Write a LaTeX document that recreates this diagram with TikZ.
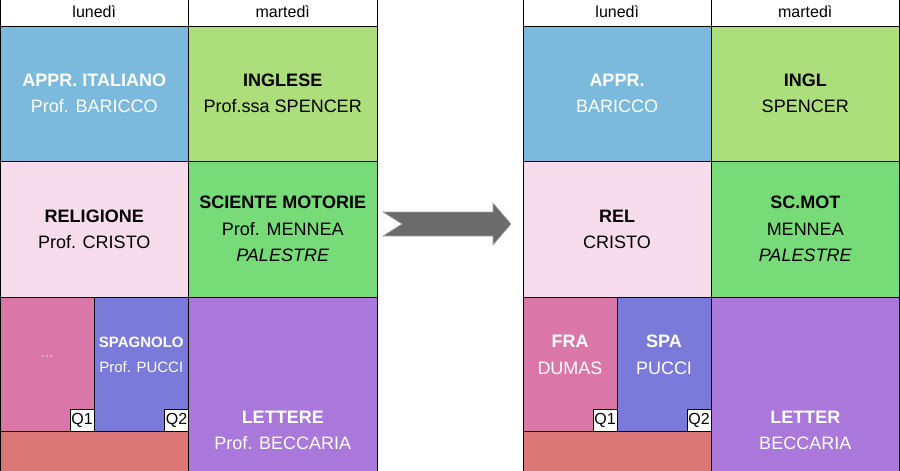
\documentclass[tikz,border=0pt]{standalone}
\usepackage{fontspec}
\setmainfont{Liberation Sans}
\usetikzlibrary{
  positioning
  , calc
}

\definecolor{celeste}{HTML}{7BBADD}
\definecolor{verdino}{HTML}{ACDE7B}
\definecolor{rosino}{HTML}{F7DDEB}
\definecolor{verde}{HTML}{77DB77}
\definecolor{rosa}{HTML}{DB77A8}
\definecolor{blu}{HTML}{7A7ADB}
\definecolor{viola}{HTML}{AA77DB}
\definecolor{salmone}{HTML}{DB7777}
\definecolor{puntini}{HTML}{F2C8DD}
\definecolor{freccia}{HTML}{6B6B6B}
\definecolor{bordofreccia}{HTML}{A5A5A5}

\tikzset{
  cell/.style={draw=black, line width=1pt, anchor=north west,
    inner sep=0pt, outer sep=0pt, align=center,
    font=\fontsize{18}{26}\selectfont},
  day/.style={cell, fill=white, minimum width=188.5pt, minimum height=28pt,
    font=\fontsize{16}{19}\selectfont},
  small/.style={align=center, font=\fontsize{15}{25}\selectfont},
  qbox/.style={draw=black, fill=white, line width=1pt, anchor=south east,
    inner sep=0pt, outer sep=0pt, minimum width=24pt, minimum height=22pt,
    font=\fontsize{16}{18}\selectfont},
}

\begin{document}
\begin{tikzpicture}[x=1pt, y=-1pt]
  \clip (0,0) rectangle (900,471);

  % orario prima
  \node [day] (Lh1) at (0,-2) {lunedì};
  \node [day] (Lh2) at (188.5,-2) {martedì};
  \node [cell, fill=celeste, text=white, minimum width=188.5pt, minimum height=135pt]
    (La1) at (0,26) {\textbf{APPR. ITALIANO}\\Prof. BARICCO};
  \node [cell, fill=verdino, minimum width=188.5pt, minimum height=135pt]
    (La2) at (188.5,26) {\textbf{INGLESE}\\Prof.ssa SPENCER};
  \node [cell, fill=rosino, minimum width=188.5pt, minimum height=136pt]
    (Lb1) at (0,161) {\textbf{RELIGIONE}\\Prof. CRISTO};
  \node [cell, fill=verde, minimum width=188.5pt, minimum height=136pt,
    font=\fontsize{18}{26.5}\selectfont]
    (Lb2) at (188.5,161) {\textbf{SCIENTE MOTORIE}\\Prof. MENNEA\\\textit{PALESTRE}};
  \node [cell, fill=rosa, minimum width=94pt, minimum height=134pt] (Lc1) at (0,297) {};
  \node [cell, fill=blu, minimum width=94.5pt, minimum height=134pt] (Lc2) at (94,297) {};
  \node [cell, fill=salmone, minimum width=188.5pt, minimum height=80pt] (Lc3) at (0,431) {};
  \node [cell, fill=viola, text=white, minimum width=188.5pt, minimum height=266pt]
    (Lc4) at (188.5,297) {\textbf{LETTERE}\\Prof. BECCARIA};
  \node [small, text=puntini] (Ldots) at ($(Lc1.north)+(0,60)$) {...};
  \node [small, text=white] (Lspa) at ($(Lc2.north)+(0,57.5)$) {\textbf{SPAGNOLO}\\Prof. PUCCI};
  \node [qbox] (Lq1) at (Lc1.south east) {Q1};
  \node [qbox] (Lq2) at (Lc2.south east) {Q2};

  % freccia
  \fill [freccia, draw=bordofreccia, line width=0.6pt]
    (383,212) -- (493,212) -- (493,203) -- (511,224) -- (493,245)
    -- (493,236) -- (383,236) -- (402,224) -- cycle;

  % orario dopo
  \node [day] (Rh1) at (523,-2) {lunedì};
  \node [day] (Rh2) at (711,-2) {martedì};
  \node [cell, fill=celeste, text=white, minimum width=188pt, minimum height=135pt]
    (Ra1) at (523,26) {\textbf{APPR.}\\BARICCO};
  \node [cell, fill=verdino, minimum width=188.5pt, minimum height=135pt]
    (Ra2) at (711,26) {\textbf{INGL}\\SPENCER};
  \node [cell, fill=rosino, minimum width=188pt, minimum height=136pt]
    (Rb1) at (523,161) {\textbf{REL}\\CRISTO};
  \node [cell, fill=verde, minimum width=188.5pt, minimum height=136pt,
    font=\fontsize{18}{26.5}\selectfont]
    (Rb2) at (711,161) {\textbf{SC.MOT}\\MENNEA\\\textit{PALESTRE}};
  \node [cell, fill=rosa, minimum width=94pt, minimum height=134pt] (Rc1) at (523,297) {};
  \node [cell, fill=blu, minimum width=94pt, minimum height=134pt] (Rc2) at (617,297) {};
  \node [cell, fill=salmone, minimum width=188pt, minimum height=80pt] (Rc3) at (523,431) {};
  \node [cell, fill=viola, text=white, minimum width=188.5pt, minimum height=266pt]
    (Rc4) at (711,297) {\textbf{LETTER}\\BECCARIA};
  \node [align=center, text=white, font=\fontsize{18}{27}\selectfont]
    (Rfra) at ($(Rc1.north)+(0,57.5)$) {\textbf{FRA}\\DUMAS};
  \node [align=center, text=white, font=\fontsize{18}{27}\selectfont]
    (Rspa) at ($(Rc2.north)+(0,57.5)$) {\textbf{SPA}\\PUCCI};
  \node [qbox] (Rq1) at (Rc1.south east) {Q1};
  \node [qbox] (Rq2) at (Rc2.south east) {Q2};
\end{tikzpicture}
\end{document}
